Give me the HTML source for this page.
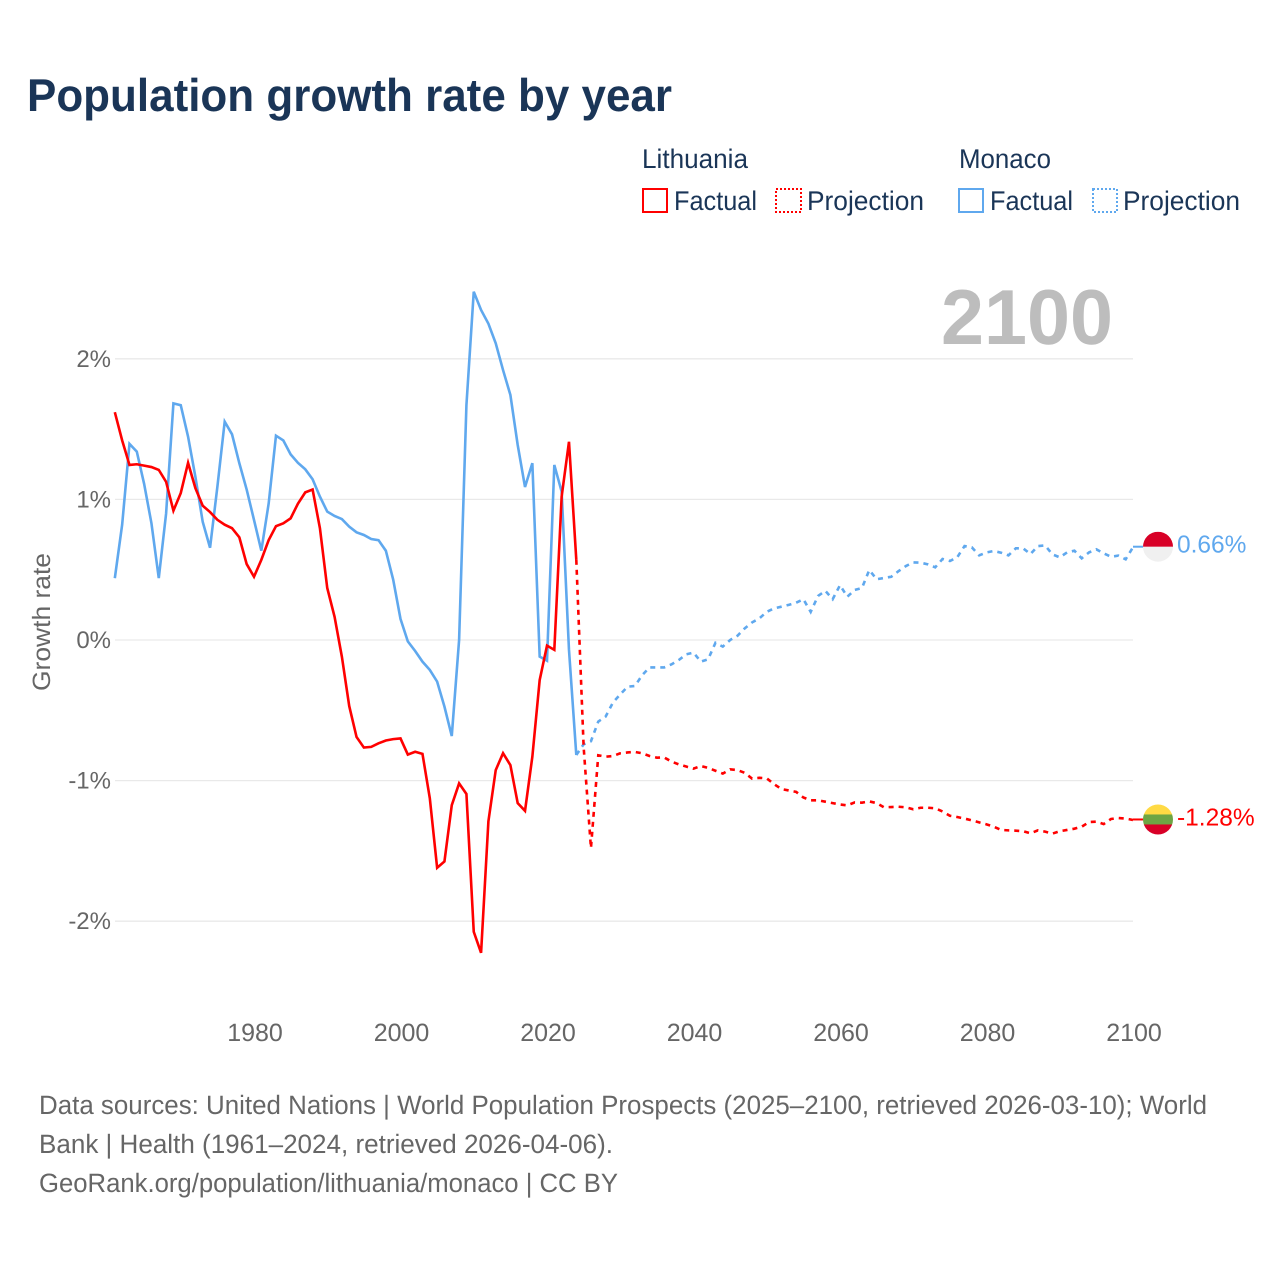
<!DOCTYPE html>
<html lang="en">
<head>
<meta charset="utf-8">
<title>Population growth rate by year</title>
<style>
  html, body { margin: 0; padding: 0; background: #fff; }
  svg { display: block; font-family: "Liberation Sans", sans-serif; text-rendering: geometricPrecision; }
</style>
</head>
<body>
<svg id="chart" xmlns="http://www.w3.org/2000/svg" width="1280" height="1280" viewBox="0 0 1280 1280">
  <rect x="0" y="0" width="1280" height="1280" fill="#ffffff"/>
  <text x="27" y="111" font-size="46" font-weight="700" fill="#1a3557" textLength="645" lengthAdjust="spacingAndGlyphs">Population growth rate by year</text>

  <g font-size="27" fill="#1a3557">
    <text x="642" y="168" textLength="106" lengthAdjust="spacingAndGlyphs">Lithuania</text>
    <text x="959" y="168" textLength="92" lengthAdjust="spacingAndGlyphs">Monaco</text>
    <rect x="643" y="189" width="24" height="23" fill="none" stroke="#ff0000" stroke-width="2"/>
    <text x="674" y="210" textLength="83" lengthAdjust="spacingAndGlyphs">Factual</text>
    <rect x="776" y="189" width="25" height="23" fill="none" stroke="#ff0000" stroke-width="2" stroke-dasharray="2 2"/>
    <text x="807" y="210" textLength="117" lengthAdjust="spacingAndGlyphs">Projection</text>
    <rect x="959" y="189" width="24" height="23" fill="none" stroke="#5fa8ee" stroke-width="2"/>
    <text x="990" y="210" textLength="83" lengthAdjust="spacingAndGlyphs">Factual</text>
    <rect x="1093" y="189" width="24" height="23" fill="none" stroke="#5fa8ee" stroke-width="2" stroke-dasharray="2 2"/>
    <text x="1123" y="210" textLength="117" lengthAdjust="spacingAndGlyphs">Projection</text>
  </g>

  <text x="941" y="344" font-size="78" font-weight="700" fill="#bdbdbd" textLength="172" lengthAdjust="spacingAndGlyphs">2100</text>
  <text transform="translate(50,622) rotate(-90)" text-anchor="middle" font-size="25" fill="#666666" textLength="138" lengthAdjust="spacingAndGlyphs">Growth rate</text>

  <g id="grid"></g>
  <g id="yticks"></g>
  <g id="xticks"></g>
  <g id="series"></g>
  <g id="ends"></g>

  <g font-size="26.5" fill="#666666">
    <text x="39" y="1114" textLength="1168" lengthAdjust="spacingAndGlyphs">Data sources: United Nations | World Population Prospects (2025–2100, retrieved 2026-03-10); World</text>
    <text x="39" y="1153" textLength="574" lengthAdjust="spacingAndGlyphs">Bank | Health (1961–2024, retrieved 2026-04-06).</text>
    <text x="39" y="1192" textLength="579" lengthAdjust="spacingAndGlyphs">GeoRank.org/population/lithuania/monaco | CC BY</text>
  </g>
</svg>

<script>
const factualStartYear = 1961;
const projectionStartYear = 2024;
const xTickLabels = [1980, 2000, 2020, 2040, 2060, 2080, 2100];
const yTickLabels = [2, 1, 0, -1, -2];

const lithuaniaFactual = [1.62, 1.42, 1.245, 1.25, 1.24, 1.23, 1.21, 1.125, 0.92, 1.045,
  1.26, 1.08, 0.955, 0.91, 0.855, 0.82, 0.795, 0.73, 0.54, 0.45,
  0.57, 0.71, 0.81, 0.83, 0.865, 0.97, 1.05, 1.07, 0.795, 0.37,
  0.165, -0.12, -0.47, -0.69, -0.765, -0.76, -0.735, -0.715, -0.705, -0.70,
  -0.815, -0.795, -0.81, -1.125, -1.62, -1.575, -1.175, -1.02, -1.095, -2.075,
  -2.225, -1.29, -0.925, -0.805, -0.89, -1.16, -1.215, -0.83, -0.285, -0.04,
  -0.07, 1.02, 1.41, 0.57];

const lithuaniaProjection = [0.57, -0.76, -1.48, -0.82, -0.83, -0.825, -0.806, -0.80, -0.796, -0.806,
  -0.825, -0.837, -0.835, -0.865, -0.885, -0.90, -0.915, -0.896, -0.91, -0.93,
  -0.95, -0.92, -0.925, -0.945, -0.986, -0.98, -0.984, -1.025, -1.06, -1.07,
  -1.08, -1.12, -1.14, -1.14, -1.15, -1.16, -1.17, -1.176, -1.155, -1.157,
  -1.148, -1.16, -1.19, -1.188, -1.186, -1.19, -1.204, -1.193, -1.193, -1.197,
  -1.22, -1.25, -1.259, -1.27, -1.283, -1.297, -1.311, -1.328, -1.351, -1.354,
  -1.356, -1.36, -1.375, -1.354, -1.363, -1.377, -1.36, -1.351, -1.342, -1.328,
  -1.295, -1.292, -1.309, -1.273, -1.266, -1.27, -1.28];

const monacoFactual = [0.44, 0.82, 1.395, 1.34, 1.11, 0.83, 0.44, 0.90, 1.683, 1.67,
  1.446, 1.16, 0.84, 0.656, 1.09, 1.553, 1.463, 1.257, 1.07, 0.854,
  0.635, 0.97, 1.453, 1.42, 1.32, 1.26, 1.214, 1.143, 1.02, 0.913,
  0.882, 0.86, 0.806, 0.766, 0.747, 0.718, 0.71, 0.635, 0.43, 0.15,
  -0.01, -0.078, -0.154, -0.213, -0.296, -0.474, -0.683, 0.0, 1.67, 2.477,
  2.347, 2.25, 2.11, 1.92, 1.743, 1.387, 1.088, 1.258, -0.118, -0.147,
  1.245, 1.055, -0.07, -0.818];

const monacoProjection = [-0.818, -0.742, -0.72, -0.58, -0.545, -0.445, -0.387, -0.332, -0.327, -0.25,
  -0.195, -0.195, -0.195, -0.173, -0.142, -0.102, -0.09, -0.154, -0.137, -0.02,
  -0.047, 0.0, 0.03, 0.083, 0.125, 0.154, 0.2, 0.225, 0.237, 0.25,
  0.265, 0.29, 0.2, 0.313, 0.35, 0.29, 0.39, 0.308, 0.356, 0.37,
  0.498, 0.432, 0.441, 0.45, 0.49, 0.526, 0.552, 0.55, 0.538, 0.517,
  0.576, 0.562, 0.588, 0.668, 0.659, 0.602, 0.623, 0.633, 0.621, 0.602,
  0.652, 0.652, 0.611, 0.668, 0.673, 0.609, 0.588, 0.623, 0.635, 0.581,
  0.623, 0.645, 0.616, 0.592, 0.60, 0.574, 0.66];

const NS = 'http://www.w3.org/2000/svg';
const xScale = year => 1134 - (2100 - year) * 7.325;
const yScale = pct => 640 - pct * 140.6;
const lineShift = -1;

function make(parent, tag, attrs, text) {
  const el = document.createElementNS(NS, tag);
  for (const k in attrs) el.setAttribute(k, attrs[k]);
  if (text !== undefined) el.textContent = text;
  parent.appendChild(el);
  return el;
}

function linePoints(values, startYear) {
  return values.map((v, i) => (xScale(startYear + i) + lineShift).toFixed(2) + ',' + yScale(v).toFixed(2)).join(' ');
}

const gridGroup = document.getElementById('grid');
const yTickGroup = document.getElementById('yticks');
yTickLabels.forEach(v => {
  const grid = make(gridGroup, 'line', { x1: 115, x2: xScale(2100) + lineShift, y1: yScale(v), y2: yScale(v), stroke: '#e9e9e9', 'stroke-width': 1.3 });
  
  
  const label = make(yTickGroup, 'text', { x: 111, y: yScale(v) + 8, 'text-anchor': 'end', 'font-size': 24, fill: '#666666' }, v + '%');
  
  
});

const xTickGroup = document.getElementById('xticks');
xTickLabels.forEach(y => {
  const label = make(xTickGroup, 'text', { x: xScale(y), y: 1041, 'text-anchor': 'middle', 'font-size': 25, fill: '#666666' }, String(y));
  
  
});

const seriesGroup = document.getElementById('series');
const RED = '#ff0000';
const BLUE = '#5fa8ee';

const monacoFactualLine = make(seriesGroup, 'polyline', { points: linePoints(monacoFactual, factualStartYear), fill: 'none', stroke: BLUE, 'stroke-width': 2.6 });



const monacoProjectionLine = make(seriesGroup, 'polyline', { points: linePoints(monacoProjection, projectionStartYear), fill: 'none', stroke: BLUE, 'stroke-width': 2.6, 'stroke-dasharray': '5 5' });



const lithuaniaFactualLine = make(seriesGroup, 'polyline', { points: linePoints(lithuaniaFactual, factualStartYear), fill: 'none', stroke: RED, 'stroke-width': 2.6 });



const lithuaniaProjectionLine = make(seriesGroup, 'polyline', { points: linePoints(lithuaniaProjection, projectionStartYear), fill: 'none', stroke: RED, 'stroke-width': 2.6, 'stroke-dasharray': '5 5' });



const endGroup = document.getElementById('ends');
const defs = make(endGroup, 'defs', {});
const flagX = 1158;
const flagR = 15;

function endMarker(id, values, colour, stripes) {
  const last = values[values.length - 1];
  const cy = yScale(last) - 0.5;
  const leader = make(endGroup, 'line', { x1: xScale(2100) + lineShift, x2: flagX - flagR, y1: cy, y2: cy, stroke: colour, 'stroke-width': 2 });
  
  

  const clip = make(defs, 'clipPath', { id: 'clip-' + id });
  make(clip, 'circle', { cx: flagX, cy: cy, r: flagR });
  const flag = make(endGroup, 'g', { 'clip-path': 'url(#clip-' + id + ')' });
  
  
  const h = flagR * 2 / stripes.length;
  stripes.forEach((c, i) => {
    make(flag, 'rect', { x: flagX - flagR, y: cy - flagR + i * h, width: flagR * 2, height: h + 0.2, fill: c });
  });

  const label = make(endGroup, 'text', { x: 1177, y: cy + 6, 'font-size': 24.5, fill: colour }, last.toFixed(2) + '%');
  
  
}

endMarker('monaco', monacoProjection, BLUE, ['#d80027', '#f0f0f0']);
endMarker('lithuania', lithuaniaProjection, RED, ['#ffda44', '#6da544', '#d80027']);
</script>
</body>
</html>
